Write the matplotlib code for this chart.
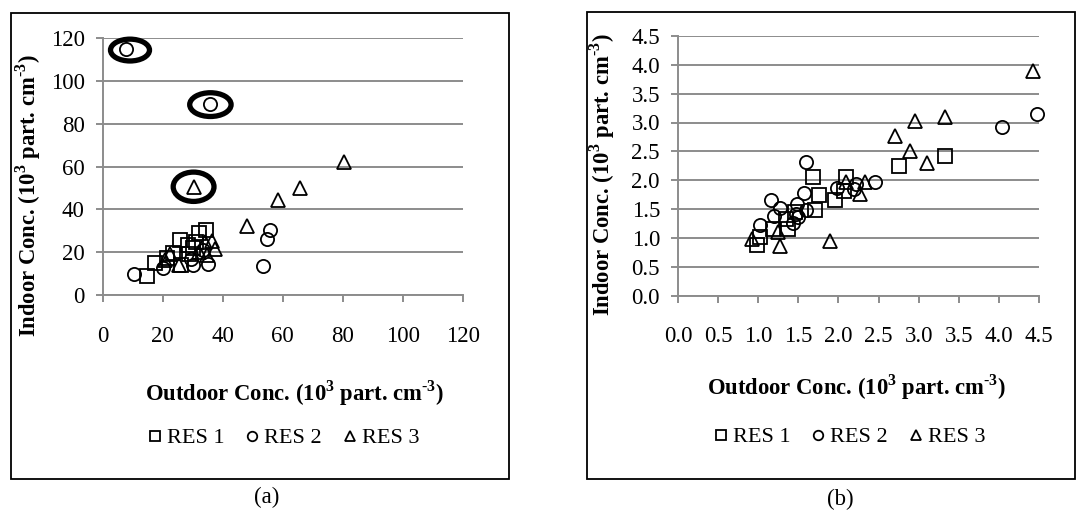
"""Indoor vs outdoor particle concentration, two panels (a) and (b)
"""

from matplotlib import pyplot as plt
from matplotlib.patches import Rectangle, Ellipse

# ---- panel (a) data (10^3 part. cm^-3) ----
a_res1_x = [14.7, 17.5, 21.5, 23.5, 25.8, 26.0, 28.5, 30.0, 28.7, 32.2, 34.4, 31.0]
a_res1_y = [8.8, 14.8, 17.5, 19.5, 25.6, 14.2, 23.5, 21.8, 19.4, 28.8, 30.5, 25.0]
a_res2_x = [7.7, 35.7, 55.8, 54.6, 53.3, 10.3, 20.2, 30.2, 35.2, 29.5, 33.5]
a_res2_y = [114.9, 89.3, 30.3, 26.0, 13.4, 10.0, 12.5, 14.2, 14.3, 17.0, 21.0]
a_res3_x = [30.4, 80.3, 65.7, 58.3, 48.2, 36.4, 37.3, 34.9, 22.5, 25.4, 20.8, 34.0, 32.0]
a_res3_y = [50.6, 62.0, 50.1, 44.3, 32.1, 25.3, 21.7, 18.6, 19.4, 13.9, 16.2, 25.0, 20.0]

# outliers circled in panel (a): centre x, centre y, width, height
circ_x = [9.1, 35.9, 30.3]
circ_y = [114.5, 89.0, 50.6]
circ_w = [13.0, 13.8, 13.6]
circ_h = [10.2, 11.1, 13.7]

# ---- panel (b) data ----
b_res1_x = [3.33, 2.75, 1.68, 1.76, 1.71, 1.96, 2.10, 2.07, 1.46, 1.37, 1.18, 1.02, 0.99, 1.35]
b_res1_y = [2.42, 2.25, 2.05, 1.75, 1.49, 1.65, 2.05, 1.81, 1.45, 1.16, 1.16, 1.01, 0.87, 1.33]
b_res2_x = [4.48, 4.04, 1.60, 2.46, 2.22, 1.98, 2.20, 1.16, 1.57, 1.27, 1.48, 1.59, 1.20, 1.02,
            1.50, 1.43, 1.47]
b_res2_y = [3.15, 2.93, 2.31, 1.97, 1.94, 1.87, 1.85, 1.65, 1.77, 1.52, 1.58, 1.49, 1.37, 1.23,
            1.36, 1.26, 1.42]
b_res3_x = [4.43, 3.33, 2.96, 2.70, 2.89, 3.11, 2.33, 2.27, 2.09, 1.89, 1.27, 1.25, 0.92]
b_res3_y = [3.89, 3.09, 3.02, 2.76, 2.51, 2.29, 1.97, 1.76, 1.97, 0.94, 0.85, 1.10, 0.98]

labels = ['RES 1', 'RES 2', 'RES 3']
a_ticks = [0, 20, 40, 60, 80, 100, 120]
b_ticks = [0.0, 0.5, 1.0, 1.5, 2.0, 2.5, 3.0, 3.5, 4.0, 4.5]

plt.rcParams['font.family'] = ['Liberation Serif', 'DejaVu Serif']
plt.rcParams['mathtext.fontset'] = 'custom'
plt.rcParams['mathtext.rm'] = 'Liberation Serif:bold'
plt.rcParams['mathtext.bf'] = 'Liberation Serif:bold'

W, H = 1076, 514
fig = plt.figure(figsize=(W / 100, H / 100), dpi=100)

grey = '#8c8c8c'
xlab = r'Outdoor Conc. (10$^{\mathbf{3}}$ part. cm$^{\text{-}\mathbf{3}}$)'
ylab = r'Indoor Conc. (10$^{\mathbf{3}}$ part. cm$^{\text{-}\mathbf{3}}$)'


def style_axes(ax, ticks, fmt):
    ax.set_xlim(ticks[0], ticks[-1])
    ax.set_ylim(ticks[0], ticks[-1])
    ax.set_xticks(ticks)
    ax.set_yticks(ticks)
    ax.set_xticklabels([fmt.format(t) for t in ticks], fontsize=16.5)
    ax.set_yticklabels([fmt.format(t) for t in ticks], fontsize=16.5)
    ax.grid(axis='y', color=grey, linewidth=1.4)
    ax.set_axisbelow(True)
    for s in ['top', 'right']:
        ax.spines[s].set_visible(False)
    for s in ['left', 'bottom']:
        ax.spines[s].set_color(grey)
        ax.spines[s].set_linewidth(1.4)
    ax.tick_params(axis='both', color=grey, width=1.4, length=5, direction='out')
    ax.tick_params(axis='x', pad=17)
    ax.tick_params(axis='y', pad=8)


def plot_series(ax, xs, ys):
    mk = ['s', 'o', '^']
    ms = [9.5, 9.5, 10.5]
    hs = []
    for x, y, m, s, lab in zip(xs, ys, mk, ms, labels):
        h, = ax.plot(x, y, linestyle='none', marker=m, markersize=s, mfc='none',
                     mec='black', mew=1.3, label=lab, clip_on=False)
        hs.append(h)
    return hs


# panel (a)
ax1 = fig.add_axes([102.7 / W, 1 - 295 / H, 360 / W, (295 - 38.3) / H])
style_axes(ax1, a_ticks, '{:d}')
h1 = plot_series(ax1, [a_res1_x, a_res2_x, a_res3_x], [a_res1_y, a_res2_y, a_res3_y])
for cx, cy, cw, ch in zip(circ_x, circ_y, circ_w, circ_h):
    ax1.add_patch(Ellipse((cx, cy), cw, ch, fill=False, edgecolor='black', linewidth=3.8,
                          clip_on=False))

# panel (b)
ax2 = fig.add_axes([678 / W, 1 - 295.5 / H, 361 / W, (295.5 - 36) / H])
style_axes(ax2, b_ticks, '{:.1f}')
h2 = plot_series(ax2, [b_res1_x, b_res2_x, b_res3_x], [b_res1_y, b_res2_y, b_res3_y])

# axis titles
fig.text(295 / W, 1 - 393 / H, xlab, ha='center', va='center', fontsize=16.3, fontweight='bold')
fig.text(28.7 / W, 1 - 196 / H, ylab, ha='center', va='center', rotation=90, fontsize=16.3,
         fontweight='bold')
fig.text(857 / W, 1 - 387 / H, xlab, ha='center', va='center', fontsize=16.3, fontweight='bold')
fig.text(602 / W, 1 - 175 / H, ylab, ha='center', va='center', rotation=90, fontsize=16.3,
         fontweight='bold')

# legends
for hs, cx, cy in [(h1, 284 / W, 1 - 438 / H), (h2, 850 / W, 1 - 437 / H)]:
    fig.legend(handles=hs, loc='center', bbox_to_anchor=(cx, cy), ncol=3, frameon=False,
               fontsize=16, markerscale=0.72, handlelength=0.55, handletextpad=0.25,
               columnspacing=1.0)

# panel frames and captions
fig.add_artist(Rectangle((10.7 / W, 1 - 479 / H), (509.3 - 10.7) / W, (479 - 12.7) / H,
                         transform=fig.transFigure, fill=False, edgecolor='black', linewidth=1.3))
fig.add_artist(Rectangle((587 / W, 1 - 479 / H), (1075 - 587) / W, (479 - 12) / H,
                         transform=fig.transFigure, fill=False, edgecolor='black', linewidth=1.3))
fig.text(266.7 / W, 1 - 497 / H, '(a)', ha='center', va='center', fontsize=16.5)
fig.text(840 / W, 1 - 499 / H, '(b)', ha='center', va='center', fontsize=16.5)

fig.savefig('out.png', dpi=100)
